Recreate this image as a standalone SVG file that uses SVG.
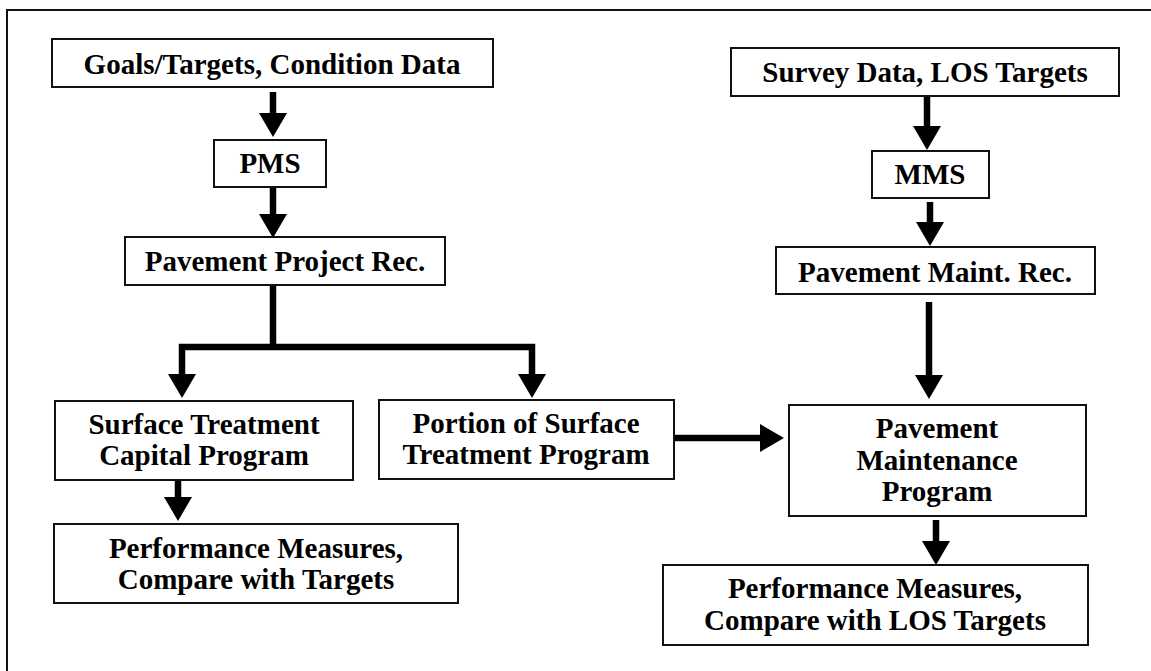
<svg xmlns="http://www.w3.org/2000/svg" width="1151" height="671" viewBox="0 0 1151 671">
<style>
.box{fill:#fff;stroke:#111;stroke-width:2}
.t{font-family:"Liberation Serif","Times New Roman",serif;font-weight:bold;font-size:29px;fill:#000;text-anchor:middle}
.c{fill:none;stroke:#000;stroke-width:6.5}
.frame{fill:none;stroke:#111;stroke-width:2}
</style>
<defs>
<marker id="ah" markerUnits="userSpaceOnUse" markerWidth="26" markerHeight="30" viewBox="0 -15 26 30" refX="1" refY="0" orient="auto">
<path d="M0,-14 L24,0 L0,14 z" fill="#000"/>
</marker>
</defs>
<rect width="1151" height="671" fill="#fff"/>
<path class="frame" d="M7,671 V10 H1151"/>

<g id="connectors">
<line class="c" x1="273" y1="92" x2="273" y2="114" marker-end="url(#ah)"/>
<line class="c" x1="273" y1="187" x2="273" y2="215" marker-end="url(#ah)"/>
<polyline class="c" points="273,285 273,347"/>
<polyline class="c" points="182,375 182,347 532,347 532,375"/>
<line class="c" x1="182" y1="374" x2="182" y2="375" marker-end="url(#ah)"/>
<line class="c" x1="532" y1="374" x2="532" y2="375" marker-end="url(#ah)"/>
<line class="c" x1="178" y1="480" x2="178" y2="498" marker-end="url(#ah)"/>
<line class="c" x1="674" y1="438" x2="761" y2="438" marker-end="url(#ah)"/>
<line class="c" x1="927" y1="96" x2="927" y2="127" marker-end="url(#ah)"/>
<line class="c" x1="930" y1="202" x2="930" y2="223" marker-end="url(#ah)"/>
<line class="c" x1="929" y1="302" x2="929" y2="376" marker-end="url(#ah)"/>
<line class="c" x1="936" y1="520" x2="936" y2="542" marker-end="url(#ah)"/>
</g>

<g id="goals">
<rect class="box" x="52" y="39" width="441" height="48"/>
<text class="t" x="272" y="74">Goals/Targets, Condition Data</text>
</g>
<g id="pms">
<rect class="box" x="214" y="140" width="112" height="47"/>
<text class="t" x="270" y="173">PMS</text>
</g>
<g id="ppr">
<rect class="box" x="125" y="237" width="320" height="48"/>
<text class="t" x="285" y="271">Pavement Project Rec.</text>
</g>
<g id="stcp">
<rect class="box" x="55" y="401" width="298" height="79"/>
<text class="t" x="204" y="434">Surface Treatment</text>
<text class="t" x="204" y="465">Capital Program</text>
</g>
<g id="portion">
<rect class="box" x="379" y="400" width="295" height="79"/>
<text class="t" x="526" y="433">Portion of Surface</text>
<text class="t" x="526" y="464">Treatment Program</text>
</g>
<g id="perf-left">
<rect class="box" x="54" y="524" width="404" height="79"/>
<text class="t" x="256" y="558">Performance Measures,</text>
<text class="t" x="256" y="589">Compare with Targets</text>
</g>
<g id="survey">
<rect class="box" x="731" y="48" width="388" height="48"/>
<text class="t" x="925" y="82">Survey Data, LOS Targets</text>
</g>
<g id="mms">
<rect class="box" x="872" y="151" width="117" height="47"/>
<text class="t" x="930" y="184">MMS</text>
</g>
<g id="pmr">
<rect class="box" x="776" y="247" width="319" height="47"/>
<text class="t" x="935" y="282">Pavement Maint. Rec.</text>
</g>
<g id="pmp">
<rect class="box" x="789" y="405" width="297" height="111"/>
<text class="t" x="937" y="438">Pavement</text>
<text class="t" x="937" y="470">Maintenance</text>
<text class="t" x="937" y="501">Program</text>
</g>
<g id="perf-right">
<rect class="box" x="663" y="565" width="425" height="80"/>
<text class="t" x="875" y="598">Performance Measures,</text>
<text class="t" x="875" y="630">Compare with LOS Targets</text>
</g>
</svg>
